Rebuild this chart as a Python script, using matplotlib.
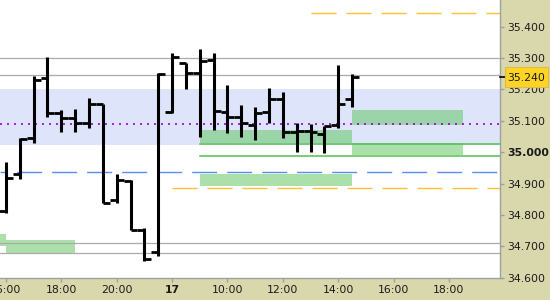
import numpy as np
import matplotlib.pyplot as plt
from matplotlib.patches import Rectangle

# 30 minute bars, x is the bar index (the night gap is skipped)
bar_idx = np.arange(26)
opens = [34.814, 34.930, 35.046, 35.235, 35.124, 35.110, 35.093, 35.152, 34.848, 34.908,
         34.752, 34.681, 35.127, 35.285, 35.251, 35.294, 35.129, 35.113, 35.087, 35.129,
         35.170, 35.065, 35.068, 35.058, 35.087, 35.168]
highs = [34.969, 35.044, 35.243, 35.304, 35.135, 35.138, 35.173, 35.152, 34.930, 34.911,
         34.757, 35.251, 35.315, 35.285, 35.329, 35.315, 35.214, 35.150, 35.145, 35.205,
         35.192, 35.094, 35.090, 35.084, 35.278, 35.249]
lows = [34.806, 34.914, 35.028, 35.113, 35.065, 35.065, 35.078, 34.837, 34.839, 34.752,
        34.654, 34.669, 35.124, 35.200, 35.049, 35.071, 35.060, 35.048, 35.039, 35.093,
        35.045, 35.002, 35.002, 34.998, 35.078, 35.143]
closes = [34.919, 35.041, 35.230, 35.124, 35.110, 35.093, 35.152, 34.839, 34.911, 34.752,
          34.660, 35.249, 35.304, 35.251, 35.291, 35.131, 35.113, 35.092, 35.126, 35.169,
          35.064, 35.068, 35.064, 35.084, 35.154, 35.240]

tick_pos = [0, 4, 8, 12, 16, 20, 24, 28, 32]
tick_labels = ['16:00', '18:00', '20:00', '17', '10:00', '12:00', '14:00', '16:00', '18:00']
price_ticks = [34.6, 34.7, 34.8, 34.9, 35.0, 35.1, 35.2, 35.3, 35.4]

band = (35.023, 35.201)
pivot = 35.089
gray_levels = [35.300, 35.245, 34.710, 34.678]
blue_level = 34.936
orange_levels = [(34.885, 12), (35.443, 22)]   # (price, first bar)
green_levels = [(35.026, 14), (34.989, 14)]
# (x0, x1, low, high)
zones = [(-0.5, 0, 34.701, 34.739), (0, 5, 34.680, 34.720),
         (14, 25, 35.029, 35.071), (14, 25, 34.893, 34.930),
         (25, 33, 35.087, 35.134), (25, 33, 34.991, 35.028)]
last_price = 35.240

panel = '#D9D7AC'
x_lo, x_hi = -0.43, 35.65

fig = plt.figure(figsize=(5.5, 3), dpi=100, facecolor=panel)
ax = fig.add_axes([0, 22.3 / 300, 499.5 / 550, 277.7 / 300])
ax.set_facecolor('white')
ax.set_xlim(x_lo, x_hi)
ax.set_ylim(34.6, 35.485)

ax.axhspan(band[0], band[1], color='#DEE5FB', lw=0, zorder=0)

for x0, x1, y0, y1 in zones:
    ax.fill_between([x0, x1], y0, y1, color=(0.4, 0.78, 0.4), alpha=0.55, lw=0, zorder=1)

for lvl in gray_levels:
    ax.axhline(lvl, color='#ABABAB', lw=0.9, zorder=2)

ax.axhline(pivot, color='#9B00D3', lw=1.2, linestyle=(0, (1.2, 3.0)), zorder=2)
ax.plot([x_lo, x_hi], [blue_level, blue_level], color='#5B8EF2', lw=1.0,
        linestyle=(13.2, (18, 7.2)), zorder=2)
for lvl, start in orange_levels:
    ax.plot([start, x_hi], [lvl, lvl], color='#FFC12E', lw=1.0,
            linestyle=(0, (18, 7.2)), zorder=2)
for lvl, start in green_levels:
    ax.plot([start, x_hi], [lvl, lvl], color='#52C252', lw=1.1, zorder=2)

# OHLC bars: open tick left, close tick right
ax.vlines(bar_idx, lows, highs, color='black', lw=2.2, zorder=3)
ax.hlines(opens, bar_idx - 0.5, bar_idx, color='black', lw=2.0, zorder=3)
ax.hlines(closes, bar_idx, bar_idx + 0.5, color='black', lw=2.0, zorder=3)

for side in ['top', 'left']:
    ax.spines[side].set_visible(False)
for side in ['right', 'bottom']:
    ax.spines[side].set_color('#A0A0A0')
    ax.spines[side].set_linewidth(1.0)

ax.set_xticks(tick_pos)
ax.set_xticklabels(tick_labels)
ax.set_yticks(price_ticks)
ax.set_yticklabels(['%.3f' % p for p in price_ticks])
ax.yaxis.tick_right()
ax.tick_params(axis='both', colors='#A0A0A0', labelcolor='#1A1A1A',
               labelsize=7.8, length=3.2, width=1.0)
ax.tick_params(axis='x', pad=1.8)
ax.tick_params(axis='y', pad=2.2)
for lab in ax.get_xticklabels():
    if lab.get_text() == '17':
        lab.set_fontweight('bold')
for lab in ax.get_yticklabels():
    if lab.get_text() == '35.000':
        lab.set_fontweight('bold')

# last price marker on the scale
ax.plot([1.0, 1.011], [last_price, last_price], color='black', lw=1.2,
        transform=ax.get_yaxis_transform(), clip_on=False, zorder=6)
y_fig = ax.transData.transform((0, last_price))[1] / fig.bbox.height
box_h = 20 / 300
fig.add_artist(Rectangle((505 / 550, y_fig - box_h / 2), 43 / 550, box_h,
                         transform=fig.transFigure, facecolor='#FDD424',
                         edgecolor='#E2B84A', lw=0.8, zorder=5))
fig.text(526.5 / 550, y_fig - 1.5 / 300, '%.3f' % last_price, ha='center', va='center',
         fontsize=7.8, color='#1A1A1A', zorder=6)

fig.savefig('out.png', dpi=100, facecolor=panel)
